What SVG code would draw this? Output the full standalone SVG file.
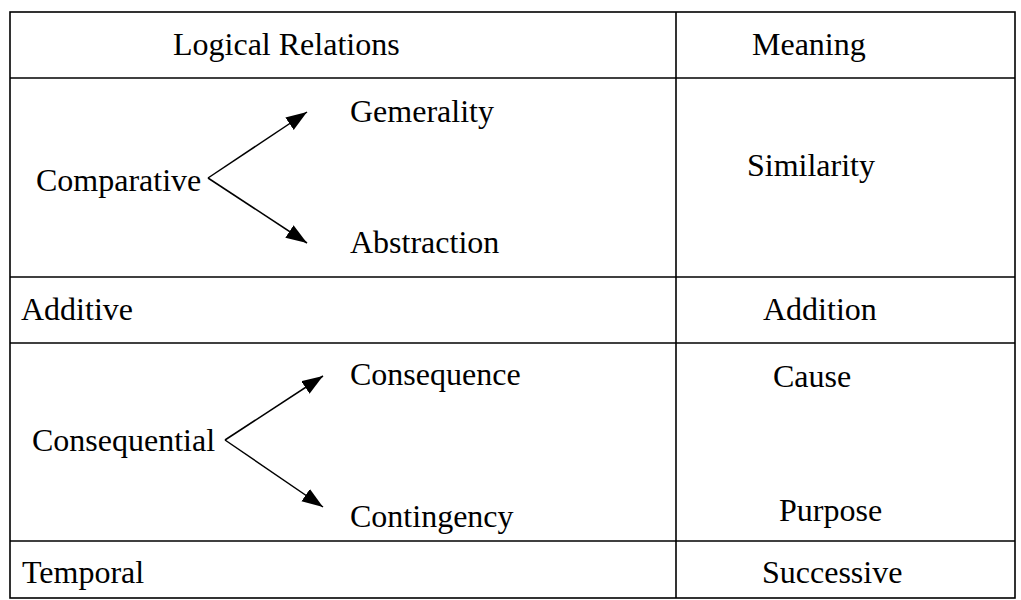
<svg xmlns="http://www.w3.org/2000/svg" width="1021" height="600" viewBox="0 0 1021 600">
  <style>
    .grid { stroke: #000; stroke-width: 1.6; fill: none; }
    .lbl { font-family: "Liberation Serif", "Times New Roman", serif; font-size: 32px; fill: #000; }
    .edge { stroke: #000; stroke-width: 1.5; fill: none; marker-end: url(#head); }
  </style>
  <defs>
    <marker id="head" markerUnits="userSpaceOnUse" markerWidth="22" markerHeight="16" refX="21" refY="7.5" orient="auto">
      <path d="M0,0 L21,7.5 L0,15 Z" fill="#000"/>
    </marker>
  </defs>

  <rect width="1021" height="600" fill="#fff"/>

  <!-- table frame and rules -->
  <g id="table">
    <rect class="grid" x="10" y="12" width="1005" height="586"/>
    <line class="grid" x1="676" y1="12" x2="676" y2="598"/>
    <line class="grid" x1="10" y1="78" x2="1015" y2="78"/>
    <line class="grid" x1="10" y1="277" x2="1015" y2="277"/>
    <line class="grid" x1="10" y1="343" x2="1015" y2="343"/>
    <line class="grid" x1="10" y1="541" x2="1015" y2="541"/>
  </g>

  <!-- header -->
  <g id="hdr-relations"><text class="lbl" x="173" y="55">Logical Relations</text></g>
  <g id="hdr-meaning"><text class="lbl" x="752" y="55">Meaning</text></g>

  <!-- logical relations column -->
  <g id="comparative"><text class="lbl" x="36" y="191">Comparative</text></g>
  <g id="generality"><text class="lbl" x="350" y="122">Gemerality</text></g>
  <g id="abstraction"><text class="lbl" x="350" y="253">Abstraction</text></g>
  <g id="additive"><text class="lbl" x="21" y="320">Additive</text></g>
  <g id="consequential"><text class="lbl" x="32" y="451">Consequential</text></g>
  <g id="consequence"><text class="lbl" x="350" y="385">Consequence</text></g>
  <g id="contingency"><text class="lbl" x="350" y="527">Contingency</text></g>
  <g id="temporal"><text class="lbl" x="22" y="583">Temporal</text></g>

  <!-- meaning column -->
  <g id="similarity"><text class="lbl" x="747" y="176">Similarity</text></g>
  <g id="addition"><text class="lbl" x="763" y="320">Addition</text></g>
  <g id="cause"><text class="lbl" x="773" y="387">Cause</text></g>
  <g id="purpose"><text class="lbl" x="779" y="521">Purpose</text></g>
  <g id="successive"><text class="lbl" x="762" y="583">Successive</text></g>

  <!-- branching arrows -->
  <g id="connectors">
    <line class="edge" x1="208" y1="178" x2="307" y2="112"/>
    <line class="edge" x1="208" y1="178" x2="307" y2="243"/>
    <line class="edge" x1="225" y1="440" x2="323" y2="376"/>
    <line class="edge" x1="225" y1="440" x2="323" y2="507"/>
  </g>
</svg>
